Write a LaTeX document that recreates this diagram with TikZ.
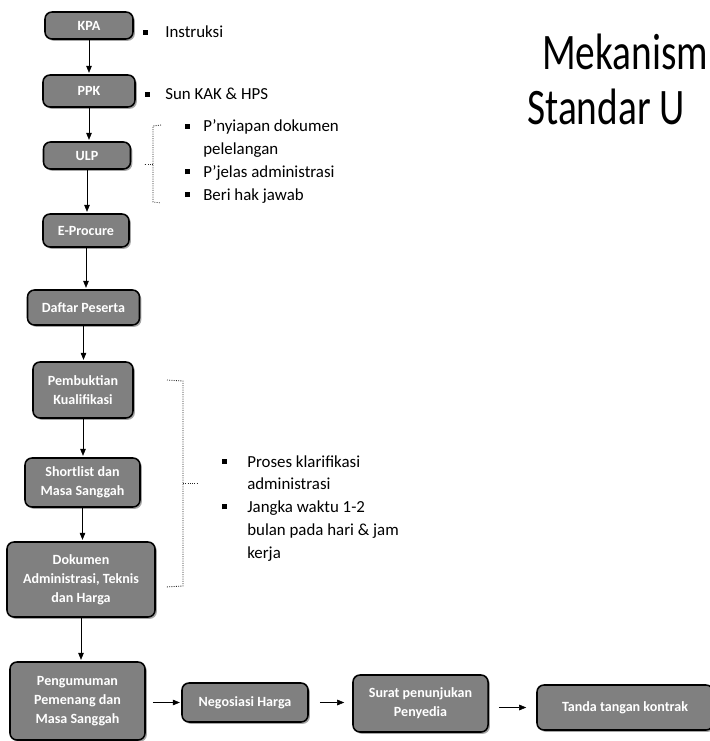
\documentclass[tikz,border=0pt]{standalone}
\usepackage{fontspec}
\setmainfont{Carlito}
\usepackage{graphicx}
\usepackage{tikz}
\usetikzlibrary{arrows.meta,shadows}
\newcommand{\bul}{\rule[2.2pt]{3pt}{3.6pt}}

\begin{document}
\begin{tikzpicture}[x=0.025cm,y=-0.025cm,
    stage/.style={draw=black,line width=1.1pt,rounded corners=5pt,fill=black!50,
      text=white,font=\fontsize{10}{13.5}\selectfont\bfseries,align=center,inner sep=1pt,
      drop shadow={shadow xshift=1.3pt,shadow yshift=-1.3pt,opacity=0.7}},
    flow/.style={-{Triangle[length=5pt,width=4pt]},thin,black,shorten >=1pt},
    note/.style={anchor=base west,inner sep=0pt,font=\fontsize{12}{16.2}\selectfont},
    curly/.style={densely dotted,black!85,line width=0.6pt}]
    \useasboundingbox (0,0) rectangle (709,741);

    % Title
    \node[anchor=base west,inner sep=0pt,font=\fontsize{28}{30}\selectfont] (ttlA) at (542,70) {\scalebox{1}[1.3]{Mekanism}};
    \node[anchor=base west,inner sep=0pt,font=\fontsize{28}{30}\selectfont] (ttlB) at (527,125) {\scalebox{1}[1.3]{Standar U}};

    % Main column
    \node[stage,minimum width=2.2cm,minimum height=0.675cm] (kpa) at (89,25.5) {KPA};
    \node[stage,minimum width=2.3cm,minimum height=0.8cm] (ppk) at (89,91) {PPK};
    \node[stage,minimum width=2.175cm,minimum height=0.675cm] (ulp) at (87,155.5) {ULP};
    \node[stage,minimum width=2.15cm,minimum height=0.825cm] (eproc) at (86,230.5) {E-Procure};
    \node[stage,minimum width=2.8cm,minimum height=0.875cm] (daftar) at (83.5,307.5) {Daftar Peserta};
    \node[stage,minimum width=2.5cm,minimum height=1.4cm] (bukti) at (83,390) {Pembuktian\\Kualifikasi};
    \node[stage,minimum width=2.875cm,minimum height=1.225cm] (short) at (82.5,482.5) {Shortlist dan\\Masa Sanggah};
    \node[stage,minimum width=3.7cm,minimum height=1.875cm] (dok) at (81,579.5) {Dokumen\\Administrasi, Teknis\\dan Harga};
    \node[stage,minimum width=3.375cm,minimum height=1.95cm] (umum) at (77.5,701) {Pengumuman\\Pemenang dan\\Masa Sanggah};

    % Bottom row
    \node[stage,minimum width=3.15cm,minimum height=0.975cm] (nego) at (245,702.5) {Negosiasi Harga};
    \node[stage,minimum width=3.375cm,minimum height=1.425cm] (surat) at (420.5,703.5) {Surat penunjukan\\Penyedia};
    \node[stage,minimum width=4.4cm,minimum height=1.125cm] (tanda) at (625,707.5) {Tanda tangan kontrak};

    % Arrows
    \draw[flow] (kpa.south) -- (kpa.south |- ppk.north);
    \draw[flow] (ppk.south) -- (ppk.south |- ulp.north);
    \draw[flow] (ulp.south) -- (ulp.south |- eproc.north);
    \draw[flow] (eproc.south) -- (eproc.south |- daftar.north);
    \draw[flow] (daftar.south) -- (daftar.south |- bukti.north);
    \draw[flow] (bukti.south) -- (bukti.south |- short.north);
    \draw[flow] (short.south) -- (short.south |- dok.north);
    \draw[flow] (dok.south) -- (dok.south |- umum.north);
    \draw[flow,shorten <=0.18cm] (nego.west -| umum.east) -- (nego.west);
    \draw[flow,shorten <=0.28cm,shorten >=0.2cm] (nego.east) -- (nego.east -| surat.west);
    \draw[flow,shorten <=0.25cm,shorten >=0.25cm] (tanda.west -| surat.east) -- (tanda.west);

    % Notes
    \node[note] (ins) at (143,38) {\makebox[0.55cm][l]{\bul}Instruksi};
    \node[note] (kak) at (145,100) {\makebox[0.5cm][l]{\bul}Sun KAK \& HPS};
    \node[note] (ulpnote) at (185,132) {\begin{tabular}[t]{@{}p{0.45cm}@{}l@{}}
      \bul & P'nyiapan dokumen\\
           & pelelangan\\
      \bul & P'jelas administrasi\\
      \bul & Beri hak jawab
    \end{tabular}};
    \node[note] (klar) at (222,467) {\begin{tabular}[t]{@{}p{0.625cm}@{}l@{}}
      \bul & Proses klarifikasi\\
           & administrasi\\
      \bul & Jangka waktu 1-2\\
           & bulan pada hari \& jam\\
           & kerja
    \end{tabular}};

    % Braces
    \draw[curly] (161,125) -- (153,126) -- (153,202) -- (161,203);
    \draw[curly] (153,164) -- (144,164);
    \draw[curly] (167,380) -- (183,381) -- (183,586) -- (166,587);
    \draw[curly] (183,483) -- (198,483);
\end{tikzpicture}
\end{document}
